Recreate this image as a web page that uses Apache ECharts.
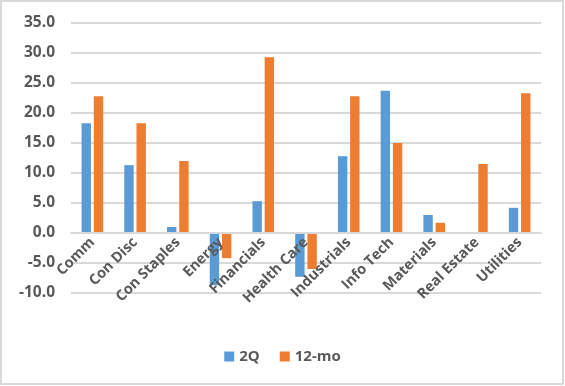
<!DOCTYPE html>
<html><head><meta charset="utf-8">
<script src="https://cdn.jsdelivr.net/npm/echarts@6/dist/echarts.min.js"></script>
<style>html,body{margin:0;padding:0;background:#fff}#c{width:565px;height:386px}</style>
</head><body><div id="c"></div>
<script>
var categories = ["Comm","Con Disc","Con Staples","Energy","Financials","Health Care","Industrials","Info Tech","Materials","Real Estate","Utilities"];
var q2 = [18.3, 11.3, 1.0, -8.7, 5.3, -7.3, 12.8, 23.7, 3.0, 0.0, 4.2];
var mo12 = [22.8, 18.3, 12.0, -4.2, 29.3, -6.0, 22.8, 15.0, 1.7, 11.5, 23.3];
var seriesNames = ["2Q", "12-mo"];
var font = "'Open Sans', 'Noto Sans', sans-serif";
var chart = echarts.init(document.getElementById('c'), null, {renderer:'canvas'});
chart.setOption({
  animation:false,
  graphic:[{type:'rect', shape:{x:1,y:1,width:562,height:383}, style:{fill:null, stroke:'#d9d9d9', lineWidth:2}}],
  grid:{left:71, right:24, top:23, bottom:93},
  legend:{top:344, left:'center', itemWidth:10, itemHeight:10, itemGap:20,
    icon:'rect', textStyle:{fontFamily:font, fontSize:15, fontWeight:'bold', color:'#595959'},
    data:seriesNames},
  xAxis:{type:'category', data:categories, offset:-60, z:5,
    axisLine:{onZero:false, lineStyle:{color:'#d9d9d9', width:2}},
    axisTick:{show:false},
    axisLabel:{rotate:45, interval:0, margin:7, fontFamily:font, fontSize:14.5, fontWeight:'bold', color:'#595959'}},
  yAxis:{type:'value', min:-10, max:35, interval:5,
    axisLine:{show:false}, axisTick:{show:false},
    splitLine:{lineStyle:{color:'#d9d9d9', width:2}},
    axisLabel:{margin:16, formatter:function(v){return v.toFixed(1);}, fontFamily:font, fontSize:15.5, fontWeight:'bold', color:'#595959'}},
  series:[
    {name:seriesNames[0], type:'bar', data:q2, barWidth:'22%', barGap:'30%', itemStyle:{color:'#5B9BD5'}},
    {name:seriesNames[1], type:'bar', data:mo12, barWidth:'22%', barGap:'30%', itemStyle:{color:'#ED7D31'}}
  ]
});
</script></body></html>
